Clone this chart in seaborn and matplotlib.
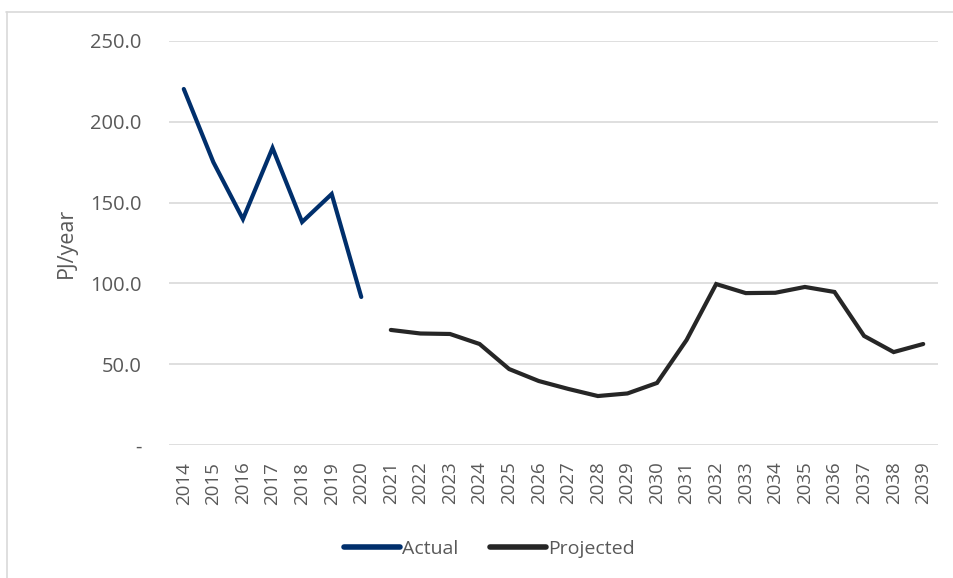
import matplotlib
matplotlib.use("Agg")
import matplotlib.pyplot as plt
from matplotlib.lines import Line2D
import numpy as np
import pandas as pd
import seaborn as sns

# Data
actual_years = [2014, 2015, 2016, 2017, 2018, 2019, 2020]
actual_values = [220.3, 175.0, 139.8, 183.8, 138.0, 155.3, 91.6]

projected_years = list(range(2021, 2040))
projected_values = [71.2, 69.0, 68.7, 62.5, 47.0, 39.6, 34.7, 30.3, 31.9, 38.4,
                    65.0, 99.6, 94.0, 94.2, 97.8, 94.7, 67.5, 57.5, 62.5]

y_ticks = [0, 50, 100, 150, 200, 250]
y_tick_labels = ['-', '50.0', '100.0', '150.0', '200.0', '250.0']

df = pd.concat([
    pd.DataFrame({'Year': actual_years, 'Value': actual_values, 'Series': 'Actual'}),
    pd.DataFrame({'Year': projected_years, 'Value': projected_values, 'Series': 'Projected'}),
])

sns.set_theme(style='white')
plt.rcParams['font.family'] = ['Open Sans', 'DejaVu Sans']

grey = '#595959'
fig = plt.figure(figsize=(9.54, 5.78), dpi=100)
ax = fig.add_axes([169 / 954, 1 - 445 / 578, (938 - 169) / 954, (445 - 41) / 578])

sns.lineplot(data=df, x='Year', y='Value', hue='Series',
             palette={'Actual': '#002f6c', 'Projected': '#262626'},
             linewidth=3.0, ax=ax, legend=False)
for line in ax.lines:
    line.set_solid_capstyle('round')
    line.set_solid_joinstyle('miter')

all_years = actual_years + projected_years
ax.set_xlim(all_years[0] - 0.5, all_years[-1] + 0.5)
ax.set_ylim(0, 250)
ax.set_xticks(all_years)
ax.set_xticklabels([str(y) for y in all_years], rotation=90, fontsize=13.5, color=grey)
ax.set_yticks(y_ticks)
ax.set_yticklabels(y_tick_labels, fontsize=14.5, color=grey)
ax.tick_params(axis='both', length=0)
ax.tick_params(axis='x', pad=12)
ax.tick_params(axis='y', pad=20)
ax.grid(axis='y', color='#d9d9d9', linewidth=1.2)
ax.set_axisbelow(True)
for s in ax.spines.values():
    s.set_visible(False)
ax.set_xlabel('')
ax.set_ylabel('PJ/year', fontsize=15.5, color=grey, labelpad=9)

handles = [Line2D([], [], color='#002f6c', linewidth=4, solid_capstyle='round'),
           Line2D([], [], color='#262626', linewidth=4, solid_capstyle='round')]
fig.legend(handles, ['Actual', 'Projected'], loc='center', bbox_to_anchor=(0.513, 0.05),
           ncol=2, frameon=False, fontsize=14, handlelength=2.9, handletextpad=0.1,
           columnspacing=1.6, labelcolor=grey)

# chart area border (top and left visible)
fig.add_artist(Line2D([6 / 954, 1], [1 - 11.5 / 578, 1 - 11.5 / 578], color='#d9d9d9', linewidth=1.2))
fig.add_artist(Line2D([7 / 954, 7 / 954], [0, 1 - 11.5 / 578], color='#d9d9d9', linewidth=1.2))

fig.savefig('out.png', dpi=100)
